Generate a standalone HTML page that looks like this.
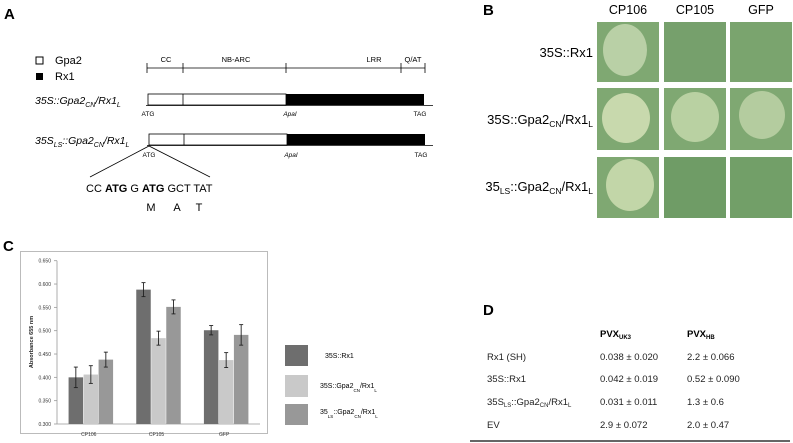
<!DOCTYPE html>
<html><head><meta charset="utf-8"><style>
body{margin:0;background:#fff;}
svg{display:block;font-family:"Liberation Sans",sans-serif;}
</style></head><body>
<svg width="793" height="443" viewBox="0 0 793 443">
<!-- Panel A -->
<g>
<text x="4" y="19" font-size="15" font-weight="bold">A</text>
<rect x="36" y="57" width="7" height="7" fill="#fff" stroke="#000" stroke-width="1"/>
<text x="55" y="64" font-size="11">Gpa2</text>
<rect x="36" y="73" width="7" height="7" fill="#000"/>
<text x="55" y="80" font-size="11">Rx1</text>
<g stroke="#000" stroke-width="0.8">
<line x1="147" y1="68" x2="425" y2="68"/>
<line x1="147" y1="63" x2="147" y2="73"/><line x1="183" y1="63" x2="183" y2="73"/><line x1="286" y1="63" x2="286" y2="73"/><line x1="401" y1="63" x2="401" y2="73"/><line x1="425" y1="63" x2="425" y2="73"/>
</g>
<g font-size="7.5" text-anchor="middle">
<text x="166" y="62">CC</text><text x="236" y="62">NB-ARC</text><text x="374" y="62">LRR</text><text x="413" y="62">Q/AT</text>
</g>
<text x="35" y="104" font-size="10.5" font-style="italic">35S::Gpa2<tspan font-size="7" dy="3">CN</tspan><tspan dy="-3">/Rx1</tspan><tspan font-size="7" dy="3">L</tspan></text>
<rect x="148" y="94" width="138" height="11" fill="#fff" stroke="#000" stroke-width="0.8"/>
<line x1="183" y1="94" x2="183" y2="105" stroke="#000" stroke-width="0.8"/>
<rect x="286" y="94" width="138" height="11" fill="#000"/>
<line x1="146" y1="105.5" x2="433" y2="105.5" stroke="#000" stroke-width="0.8"/>
<g font-size="6.5" text-anchor="middle"><text x="148" y="116">ATG</text><text x="290" y="116" font-style="italic">ApaI</text><text x="420" y="116">TAG</text></g>
<text x="35" y="144" font-size="10.5" font-style="italic">35S<tspan font-size="7" dy="3">LS</tspan><tspan dy="-3">::Gpa2</tspan><tspan font-size="7" dy="3">CN</tspan><tspan dy="-3">/Rx1</tspan><tspan font-size="7" dy="3">L</tspan></text>
<rect x="149" y="134" width="138" height="11" fill="#fff" stroke="#000" stroke-width="0.8"/>
<line x1="184" y1="134" x2="184" y2="145" stroke="#000" stroke-width="0.8"/>
<rect x="287" y="134" width="138" height="11" fill="#000"/>
<line x1="147" y1="145.5" x2="433" y2="145.5" stroke="#000" stroke-width="0.8"/>
<g font-size="6.5" text-anchor="middle"><text x="149" y="157">ATG</text><text x="291" y="157" font-style="italic">ApaI</text><text x="421" y="157">TAG</text></g>
<polyline points="90,177 149,146 210,177" fill="none" stroke="#000" stroke-width="0.8"/>
<text x="86" y="192" font-size="11">CC <tspan font-weight="bold">ATG</tspan>  G <tspan font-weight="bold">ATG</tspan> GCT TAT</text>
<g font-size="11" text-anchor="middle"><text x="151" y="211">M</text><text x="177" y="211">A</text><text x="199" y="211">T</text></g>
</g>
<!-- Panel B -->
<g>
<text x="483" y="15" font-size="15" font-weight="bold">B</text>
<g font-size="12.5" text-anchor="middle"><text x="628" y="14">CP106</text><text x="695" y="14">CP105</text><text x="761" y="14">GFP</text></g>
<g font-size="13" text-anchor="end">
<text x="593" y="57">35S::Rx1</text>
<text x="593" y="124">35S::Gpa2<tspan font-size="8.5" dy="3">CN</tspan><tspan dy="-3">/Rx1</tspan><tspan font-size="8.5" dy="3">L</tspan></text>
<text x="593" y="191">35<tspan font-size="8.5" dy="3">LS</tspan><tspan dy="-3">::Gpa2</tspan><tspan font-size="8.5" dy="3">CN</tspan><tspan dy="-3">/Rx1</tspan><tspan font-size="8.5" dy="3">L</tspan></text>
</g>
<g>
<rect x="597" y="22" width="62" height="60" fill="#7fa872"/><ellipse cx="625" cy="50" rx="22" ry="26" fill="#b9d0a6"/>
<rect x="664" y="22" width="62" height="60" fill="#76a06c"/>
<rect x="730" y="22" width="62" height="60" fill="#7aa46e"/>
<rect x="597" y="88" width="62" height="62" fill="#7fa872"/><ellipse cx="626" cy="118" rx="24" ry="25" fill="#c8d9ad"/>
<rect x="664" y="88" width="62" height="62" fill="#7fa872"/><ellipse cx="695" cy="117" rx="24" ry="25" fill="#b9d1a2"/>
<rect x="730" y="88" width="62" height="62" fill="#7fa872"/><ellipse cx="762" cy="115" rx="23" ry="24" fill="#b4cc9f"/>
<rect x="597" y="157" width="62" height="61" fill="#7fa872"/><ellipse cx="630" cy="185" rx="24" ry="26" fill="#c2d6a8"/>
<rect x="664" y="157" width="62" height="61" fill="#6f9c66"/>
<rect x="730" y="157" width="62" height="61" fill="#729f68"/>
</g>
</g>
<!-- Panel C -->
<text x="3" y="251" font-size="15" font-weight="bold">C</text>
<rect x="20.5" y="251.5" width="247" height="182" fill="#fff" stroke="#bbb"/>
<g id="chart"></g>
<g>
<rect x="285" y="345" width="23" height="21" fill="#6e6e6e"/><text x="325" y="358" font-size="7">35S::Rx1</text>
<rect x="285" y="375" width="23" height="22" fill="#c9c9c9"/><text x="320" y="388" font-size="7">35S::Gpa2<tspan font-size="4.5" dy="4">CN</tspan><tspan dy="-4">/Rx1</tspan><tspan font-size="4.5" dy="4">L</tspan></text>
<rect x="285" y="404" width="23" height="21" fill="#989898"/><text x="320" y="414" font-size="7">35<tspan font-size="4.5" dy="4">LS</tspan><tspan dy="-4">::Gpa2</tspan><tspan font-size="4.5" dy="4">CN</tspan><tspan dy="-4">/Rx1</tspan><tspan font-size="4.5" dy="4">L</tspan></text>
</g>
<!-- Panel D -->
<g>
<text x="483" y="315" font-size="15" font-weight="bold">D</text>
<g font-size="9.5" font-weight="bold"><text x="600" y="337">PVX<tspan font-size="6" dy="2">UK3</tspan></text><text x="687" y="337">PVX<tspan font-size="6" dy="2">HB</tspan></text></g>
<g font-size="9.5" fill="#222">
<text x="487" y="360">Rx1 (SH)</text><text x="600" y="360">0.038 ± 0.020</text><text x="687" y="360">2.2 ± 0.066</text>
<text x="487" y="382">35S::Rx1</text><text x="600" y="382">0.042 ± 0.019</text><text x="687" y="382">0.52 ± 0.090</text>
<text x="487" y="405">35S<tspan font-size="6" dy="2">LS</tspan><tspan dy="-2">::Gpa2</tspan><tspan font-size="6" dy="2">CN</tspan><tspan dy="-2">/Rx1</tspan><tspan font-size="6" dy="2">L</tspan></text><text x="600" y="405">0.031 ± 0.011</text><text x="687" y="405">1.3 ± 0.6</text>
<text x="487" y="428">EV</text><text x="600" y="428">2.9 ± 0.072</text><text x="687" y="428">2.0 ± 0.47</text>
</g>
<line x1="470" y1="441" x2="790" y2="441" stroke="#333" stroke-width="1.5"/>
</g>
</svg>
<script>
const categories=["CP106","CP105","GFP"];
const s1=[0.400,0.588,0.501];
const s2=[0.406,0.484,0.437];
const s3=[0.438,0.551,0.491];
const e1=[0.022,0.015,0.010];
const e2=[0.019,0.015,0.016];
const e3=[0.016,0.015,0.022];
const ticks=[0.300,0.350,0.400,0.450,0.500,0.550,0.600,0.650];
const NS="http://www.w3.org/2000/svg";
const g=document.getElementById("chart");
const X0=57,X1=260,Y0=424,Y1=260.7,VMIN=0.3,VMAX=0.65;
const y=v=>Y0-(v-VMIN)/(VMAX-VMIN)*(Y0-Y1);
const cw=(X1-X0)/categories.length;
const x=i=>X0+cw*i;
function mk(t,a){const e=document.createElementNS(NS,t);for(const k in a)e.setAttribute(k,a[k]);g.appendChild(e);return e;}
const ax=mk("line",{x1:X0,y1:Y1,x2:X0,y2:Y0,stroke:"#999","stroke-width":0.8});


const bx=mk("line",{x1:X0,y1:Y0,x2:X1,y2:Y0,stroke:"#999","stroke-width":0.8});


ticks.forEach(t=>{
  mk("line",{x1:X0-3,y1:y(t),x2:X0,y2:y(t),stroke:"#999","stroke-width":0.8});
  const tx=mk("text",{x:X0-6,y:y(t)+2,"font-size":5,"text-anchor":"end",fill:"#333"});
  tx.textContent=t.toFixed(3);
  
  
});
const yt=mk("text",{transform:"translate(33,342) rotate(-90)","font-size":5.5,"font-weight":"bold","text-anchor":"middle",fill:"#222"});
yt.textContent="Absorbance 655 nm";


const series=[[s1,e1,"#6e6e6e"],[s2,e2,"#c9c9c9"],[s3,e3,"#989898"]];
const bw=14.5;
categories.forEach((c,i)=>{
  const cx=x(i)+cw/2;
  series.forEach((s,j)=>{
    const v=s[0][i],er=s[1][i];
    const bxp=cx-1.5*bw+j*bw+0.5*(j-1)*1;
    const r=mk("rect",{x:bxp,y:y(v),width:bw,height:Y0-y(v),fill:s[2]});
    
    
    const m=bxp+bw/2;
    mk("line",{x1:m,y1:y(v+er),x2:m,y2:y(v-er),stroke:"#222","stroke-width":0.9});
    mk("line",{x1:m-2,y1:y(v+er),x2:m+2,y2:y(v+er),stroke:"#222","stroke-width":0.9});
    mk("line",{x1:m-2,y1:y(v-er),x2:m+2,y2:y(v-er),stroke:"#222","stroke-width":0.9});
  });
  const l=mk("text",{x:cx-2,y:Y0+12,"font-size":5,"text-anchor":"middle",fill:"#333"});
  l.textContent=c;
  
  
});
</script>
</body></html>
